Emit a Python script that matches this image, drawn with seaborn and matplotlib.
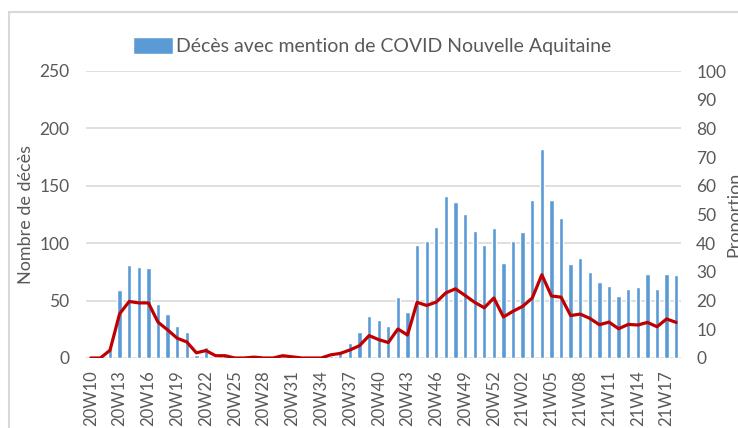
import numpy as np
import pandas as pd
import matplotlib
matplotlib.use("Agg")
import matplotlib.pyplot as plt
from matplotlib.patches import Rectangle
import seaborn as sns

# semaines ISO (2020 a 53 semaines)
weeks = [f"20W{w:02d}" for w in range(10, 54)] + [f"21W{w:02d}" for w in range(1, 19)]

deces = [0, 0, 8, 59, 81, 79, 78, 47, 38, 28,
         23, 3, 10, 1, 3, 0, 0, 1, 0, 0,
         3, 1, 0, 0, 0, 2, 6, 13, 23, 37,
         33, 28, 53, 40, 98, 102, 114, 141, 136, 125,
         111, 98, 113, 83, 102, 110, 138, 182, 138, 122,
         82, 87, 75, 66, 63, 54, 60, 62, 73, 60,
         73, 72]

proportion = [0, 0, 2.7, 15.4, 19.7, 19.2, 19.2, 12.5, 9.8, 6.9,
              5.6, 1.8, 2.6, 0.8, 0.8, 0, 0, 0.3, 0, 0,
              0.8, 0.4, 0, 0, 0, 1.1, 1.6, 2.8, 4.3, 7.8,
              6.4, 5.4, 10.1, 8.0, 19.4, 18.3, 19.5, 22.7, 24.1, 21.8,
              19.4, 17.5, 20.9, 14.3, 16.3, 18.0, 20.9, 29.0, 21.6, 21.2,
              14.8, 15.3, 13.8, 11.6, 12.5, 10.2, 11.7, 11.5, 12.4, 10.9,
              13.6, 12.4]

legend_label = "Décès avec mention de COVID Nouvelle Aquitaine"
grey_txt = "#595959"
grid_col = "#d9d9d9"

sns.set_style("white")
plt.rcParams["font.family"] = ["Lato", "DejaVu Sans"]

df = pd.DataFrame({"semaine": weeks, "deces": deces, "pos": np.arange(len(weeks)), "prop": proportion})

fig = plt.figure(figsize=(7.38, 4.28), dpi=100)
ax = fig.add_axes([86 / 738, 1 - 358 / 428, (681 - 86) / 738, (358 - 71) / 428])

sns.barplot(data=df, x="semaine", y="deces", color="#5b9bd5", saturation=1,
            width=0.45, ax=ax, label=legend_label)
if ax.get_legend() is not None:
    ax.get_legend().remove()
ax.set_ylim(0, 250)
ax.set_xlim(-0.5, len(weeks) - 0.5)
ax.set_yticks(range(0, 251, 50))
ax.yaxis.grid(True, color=grid_col, lw=1.2)
ax.set_axisbelow(True)
ax.set_xticks(range(0, len(weeks), 3))
ax.set_xticklabels(weeks[::3], rotation=90)
ax.tick_params(axis="x", length=0, pad=9, labelsize=12, colors=grey_txt)
ax.tick_params(axis="y", length=0, pad=12, labelsize=12.5, colors=grey_txt)
ax.set_xlabel("")
ax.set_ylabel("Nombre de décès", fontsize=13, color=grey_txt, labelpad=4)
for s in ax.spines.values():
    s.set_visible(False)

ax2 = ax.twinx()
sns.lineplot(data=df, x="pos", y="prop", color="#c00000", lw=2.3, ax=ax2, legend=False)
ax2.set_ylim(0, 100)
ax2.set_yticks(range(0, 101, 10))
ax2.tick_params(axis="y", length=0, pad=11, labelsize=12.5, colors=grey_txt)
ax2.set_ylabel("Proportion", fontsize=13, color=grey_txt, labelpad=0)
ax2.set_xlim(-0.5, len(weeks) - 0.5)
for s in ax2.spines.values():
    s.set_visible(False)

handles, labels = ax.get_legend_handles_labels()
fig.legend(handles, labels, loc="center", bbox_to_anchor=(372 / 738, 1 - 46 / 428),
           frameon=False, fontsize=14, labelcolor=grey_txt,
           handlelength=2.1, handleheight=1.0, handletextpad=0.15)

# cadre gris de la zone du graphique
fig.patches.append(Rectangle((9 / 738, -0.1), 1.2, 1.1 - 12 / 428, transform=fig.transFigure,
                             fill=False, edgecolor=grid_col, lw=1.5))

fig.savefig("out.png", dpi=100)
